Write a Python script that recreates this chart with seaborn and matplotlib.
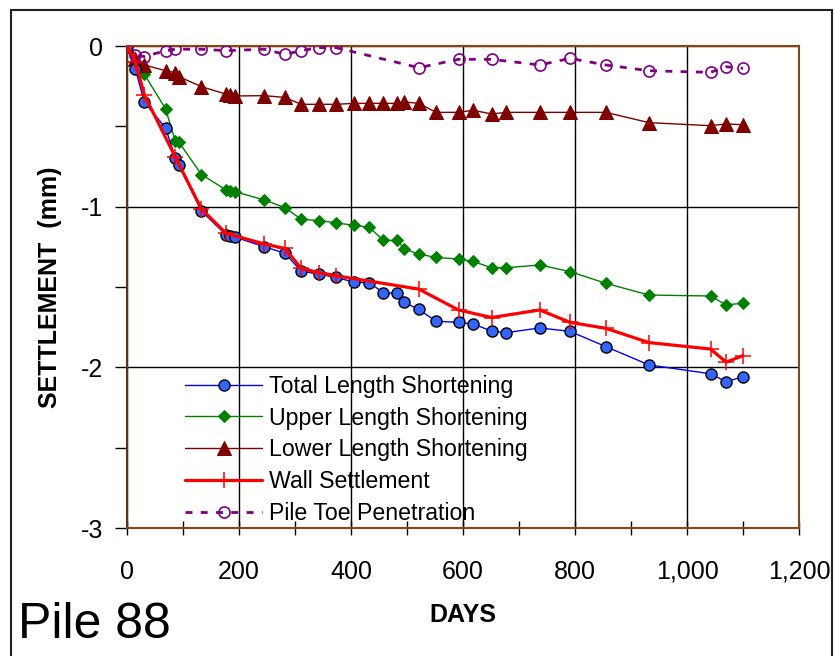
import matplotlib
matplotlib.use("Agg")
import matplotlib.pyplot as plt
import matplotlib.patches as mpatches
from matplotlib.ticker import MultipleLocator, FuncFormatter
import seaborn as sns
import pandas as pd

# ---- data ----
days = [0, 15, 31, 69, 86, 92, 133, 177, 184, 193, 245, 282, 311, 343, 373, 406, 432,
        458, 483, 495, 521, 552, 592, 618, 651, 677, 737, 791, 855, 932, 1042, 1070, 1100]
total_short = [0, -0.145, -0.35, -0.51, -0.695, -0.74, -1.027, -1.176, -1.18, -1.19, -1.249,
               -1.29, -1.40, -1.42, -1.44, -1.47, -1.473, -1.535, -1.54, -1.595, -1.64, -1.713,
               -1.72, -1.73, -1.774, -1.784, -1.755, -1.776, -1.871, -1.985, -2.04, -2.09, -2.058]
upper_short = [0, -0.10, -0.176, -0.392, -0.59, -0.595, -0.80, -0.896, -0.90, -0.907, -0.958,
               -1.006, -1.078, -1.087, -1.10, -1.117, -1.127, -1.21, -1.21, -1.263, -1.295, -1.316,
               -1.326, -1.341, -1.38, -1.38, -1.363, -1.404, -1.477, -1.55, -1.556, -1.612, -1.60]
lower_short = [0, -0.08, -0.118, -0.154, -0.166, -0.19, -0.253, -0.30, -0.305, -0.311, -0.309,
               -0.32, -0.363, -0.363, -0.363, -0.357, -0.357, -0.357, -0.357, -0.348, -0.357, -0.413,
               -0.413, -0.40, -0.423, -0.413, -0.413, -0.413, -0.413, -0.477, -0.496, -0.485, -0.49]
wall_days = [0, 15, 31, 86, 133, 177, 245, 282, 311, 343, 373, 521, 592, 651, 737, 791, 855,
             932, 1042, 1070, 1100]
wall_settle = [0, -0.098, -0.305, -0.689, -1.015, -1.166, -1.232, -1.26, -1.384, -1.41, -1.43,
               -1.513, -1.643, -1.69, -1.643, -1.72, -1.757, -1.846, -1.886, -1.968, -1.927]
toe_days = [0, 15, 31, 69, 86, 133, 177, 245, 282, 311, 343, 373, 521, 592, 651, 737, 791, 855,
            932, 1042, 1070, 1100]
toe_pen = [0, -0.056, -0.066, -0.029, -0.02, -0.02, -0.029, -0.02, -0.052, -0.029, -0.01, -0.01,
           -0.135, -0.083, -0.083, -0.118, -0.077, -0.118, -0.154, -0.164, -0.129, -0.139]
labels = ["Total Length Shortening", "Upper Length Shortening", "Lower Length Shortening",
          "Wall Settlement", "Pile Toe Penetration"]
x_ticks = [0, 200, 400, 600, 800, 1000, 1200]
y_ticks = [0, -1, -2, -3]

sns.set_theme(style="white")
plt.rcParams["font.family"] = ["Liberation Sans", "DejaVu Sans"]
plt.rcParams["text.color"] = "black"
plt.rcParams["axes.labelcolor"] = "black"
plt.rcParams["xtick.color"] = "black"
plt.rcParams["ytick.color"] = "black"

fig = plt.figure(figsize=(8.34, 6.56), dpi=100)
ax = fig.add_axes([127/834, 1-528/656, (799-127)/834, (528-46)/656])

main = pd.DataFrame({"days": days, "total": total_short, "upper": upper_short, "lower": lower_short})
wall = pd.DataFrame({"days": wall_days, "wall": wall_settle})
toe = pd.DataFrame({"days": toe_days, "toe": toe_pen})

common = dict(ax=ax, estimator=None, sort=False)
sns.lineplot(data=main, x="days", y="total", color="#0000FF", lw=1, marker="o", ms=8,
             mfc="#3366FF", mec="black", mew=1, label=labels[0], zorder=4, **common)
sns.lineplot(data=main, x="days", y="upper", color="#008000", lw=1, marker="D", ms=6.5,
             mfc="#008000", mec="#008000", label=labels[1], zorder=3, **common)
sns.lineplot(data=main, x="days", y="lower", color="#800000", lw=1, marker="^", ms=9.5,
             mfc="#800000", mec="#800000", label=labels[2], zorder=3, **common)
sns.lineplot(data=wall, x="days", y="wall", color="#FF0000", lw=2.3, marker="+", ms=11,
             mew=1.1, mec="#FF0000", label=labels[3], zorder=5, **common)
sns.lineplot(data=toe, x="days", y="toe", color="#800080", lw=2, marker="o", ms=8,
             mfc="none", mec="#800080", mew=1.2, dashes=False, label=labels[4], zorder=3, **common)
ax.lines[-1].set_linestyle((0, (2.5, 3)))

ax.set_xlim(0, 1200)
ax.set_ylim(-3, 0)
ax.set_xticks(x_ticks)
ax.set_yticks(y_ticks)
ax.xaxis.set_minor_locator(MultipleLocator(100))
ax.yaxis.set_minor_locator(MultipleLocator(0.5))
ax.xaxis.set_major_formatter(FuncFormatter(lambda v, p: f"{int(v):,}"))
ax.yaxis.set_major_formatter(FuncFormatter(lambda v, p: f"{int(v)}"))
ax.tick_params(axis="x", which="both", direction="inout", length=10, width=1, colors="black",
               labelsize=18, pad=18, bottom=True)
ax.tick_params(axis="y", which="both", direction="out", length=9, width=1, colors="black",
               labelsize=18, pad=8, left=True)
ax.grid(True, which="major", color="black", lw=1)
for s in ax.spines.values():
    s.set_color("#8B4513")
    s.set_linewidth(1.5)
ax.spines["left"].set_color("#5C3317")

ax.set_xlabel("DAYS", fontsize=18, fontweight="bold", labelpad=14, color="black")
ax.set_ylabel("SETTLEMENT  (mm)", fontsize=18, fontweight="bold", labelpad=14, color="black")

leg = ax.legend(loc="upper left", bbox_to_anchor=(0.087, 0.318), frameon=False, fontsize=16.7,
                handlelength=3.3, handletextpad=0.3, labelspacing=0.38, borderaxespad=0,
                borderpad=0)
for t in leg.get_texts():
    t.set_color("black")

fig.text(0.022, 0.012, "Pile 88", fontsize=36, ha="left", va="bottom", color="black")
fig.add_artist(mpatches.Rectangle((11/834, -0.05), (832-11)/834, 1.05-10/656,
                                  transform=fig.transFigure, fill=False, ec="#222222", lw=1.5))

fig.savefig("out.png", dpi=100)
